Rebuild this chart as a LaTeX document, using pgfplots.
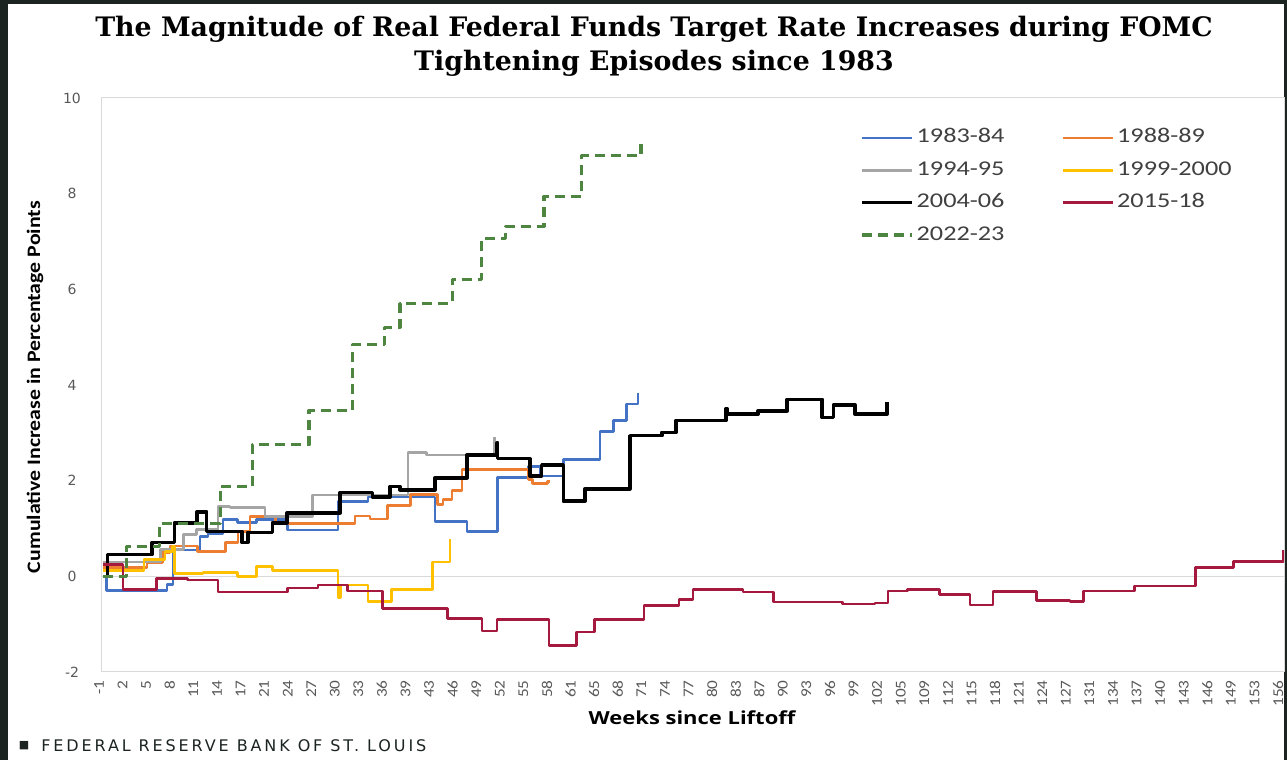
\documentclass[border=0pt]{standalone}
\usepackage{fontspec}
\setmainfont{Carlito}[FakeStretch=1.15]
\newfontfamily\legfont{Carlito}[FakeStretch=1.25]
\newfontfamily\titlefont{DejaVu Serif}
\newfontfamily\ytickfont{DejaVu Sans}
\newfontfamily\xlabfont{Open Sans}[FakeStretch=1.22]
\newfontfamily\footfont{DejaVu Sans}[LetterSpace=18]
\usepackage{pgfplots}
\pgfplotsset{compat=1.18}

\definecolor{bgdark}{HTML}{1B2421}
\definecolor{c8384}{HTML}{4472C4}
\definecolor{c8889}{HTML}{ED7D31}
\definecolor{c9495}{HTML}{A5A5A5}
\definecolor{c9900}{HTML}{FFC000}
\definecolor{c1518}{HTML}{A6193F}
\definecolor{c2223}{HTML}{4E8540}
\definecolor{ticktext}{HTML}{595959}
\definecolor{legtext}{HTML}{404040}
\definecolor{frame}{HTML}{D9D9D9}

\begin{document}
\begin{tikzpicture}
% page background (dark edge of the screenshot)
\fill[bgdark] (0pt,0pt) rectangle (643.5pt,380pt);
\fill[white] (4pt,0pt) rectangle (642pt,378pt);

\begin{axis}[
  at={(51pt,44pt)}, anchor=south west,
  scale only axis, width=591pt, height=287pt,
  xmin=-1.134, xmax=157.3, ymin=-2, ymax=10,
  axis line style={draw=frame, line width=0.5pt},
  major tick length=0pt,
  ytick={-2,0,...,10},
  /pgf/number format/assume math mode=true,
  yticklabel style={font=\ytickfont\fontsize{7}{8}\selectfont, text=ticktext, anchor=center, xshift=-15pt},
  extra y ticks={0}, extra y tick labels={},
  extra y tick style={grid=major, major grid style={draw=frame, line width=0.5pt}},
  % 51 evenly spaced category labels
  xtick={-1.13,2.031,5.191,8.352,11.512,14.673,17.834,20.994,24.155,27.315,30.476,33.637,36.797,39.958,43.118,46.279,49.440,52.600,55.761,58.921,62.082,65.243,68.403,71.564,74.724,77.885,81.046,84.206,87.367,90.527,93.688,96.849,100.009,103.170,106.330,109.491,112.652,115.812,118.973,122.133,125.294,128.455,131.615,134.776,137.936,141.097,144.258,147.418,150.579,153.739,156.9},
  xticklabels={-1,2,5,8,11,14,17,21,24,27,30,33,36,39,43,46,49,52,55,58,61,65,68,71,74,77,80,83,87,90,93,96,99,102,105,109,112,115,118,121,124,127,131,134,137,140,143,146,149,153,156},
  xticklabel style={font=\fontsize{7.5}{8}\selectfont, text=ticktext, rotate=90, anchor=east, inner sep=0pt, xshift=-4pt, yshift=1.5pt},
  every axis plot/.append style={const plot, line width=1.3pt, line join=round},
  legend columns=2,
  legend cell align=left,
  legend image code/.code={\draw[#1] (0pt,0pt) -- (25pt,0pt);},
  legend style={at={(0.641,0.947)}, anchor=north west, draw=none, fill=none, inner sep=0pt,
    font=\legfont\fontsize{10.5}{12}\selectfont, text=legtext,
    nodes={inner sep=0pt, inner xsep=1.5pt, text height=7pt, text depth=2pt},
    row sep=7.2pt,
    /tikz/every even column/.append style={column sep=27pt}},
]
\addplot[c8384] coordinates {(-1,0.0) (-0.5,-0.29) (7.6,-0.17) (8.4,0.55) (12,0.83) (13.1,0.9) (15.1,1.19) (17,1.12) (19.6,1.19) (23.7,0.97) (30.5,1.57) (34.5,1.66) (43.5,1.15) (47.8,0.94) (51.9,2.07) (56,2.29) (57.6,2.1) (60.7,2.44) (65.6,3.03) (67.4,3.26) (69.2,3.6) (70.7,3.84)};
\addlegendentry{1983-84}
\addplot[c8889] coordinates {(-1,0.19) (4.9,0.29) (7,0.5) (8,0.63) (11.7,0.52) (15.4,0.71) (17.1,0.94) (18.7,1.25) (22.1,1.1) (32.8,1.26) (34.8,1.2) (37.1,1.48) (40.2,1.71) (43.8,1.5) (44.6,1.6) (45.8,1.8) (47.1,2.23) (56,2.02) (56.6,1.94) (58.6,1.98) (58.9,1.98)};
\addlegendentry{1988-89}
\addplot[c9495] coordinates {(-1,0.3) (6.7,0.56) (9.8,0.87) (11.5,0.98) (14.4,1.46) (16,1.44) (20.7,1.25) (27.1,1.7) (39.9,2.59) (42.4,2.54) (51.5,2.92)};
\addlegendentry{1994-95}
\addplot[c9900] coordinates {(-1,0.12) (4.5,0.35) (7.3,0.52) (8.3,0.62) (8.6,0.06) (12.4,0.08) (17,0.0) (19.6,0.21) (21.7,0.12) (30.5,-0.44) (30.8,-0.18) (34.5,-0.53) (37.7,-0.27) (43.2,0.30) (45.5,0.78)};
\addlegendentry{1999-2000}
\addplot[black, line width=1.8pt] coordinates {(-1,0.0) (-0.4,0.46) (5.6,0.71) (8.6,1.12) (11.6,1.35) (12.9,0.94) (17.6,0.71) (18.4,0.92) (21.7,1.12) (23.7,1.33) (30.8,1.75) (35.1,1.66) (37.5,1.88) (38.8,1.81) (43.5,2.06) (47.8,2.54) (51.8,2.79) (51.9,2.46) (56.2,2.10) (57.8,2.33) (60.7,1.57) (63.6,1.83) (69.6,2.94) (73.9,3.01) (75.8,3.26) (82.5,3.51) (82.6,3.39) (86.8,3.46) (90.7,3.70) (95.4,3.32) (96.9,3.58) (99.8,3.39) (104.1,3.65)};
\addlegendentry{2004-06}
\addplot[c1518] coordinates {(-1,0.25) (1.7,-0.27) (6.2,-0.05) (10.3,-0.08) (14.4,-0.33) (23.7,-0.24) (27.8,-0.18) (31.8,-0.31) (36.5,-0.67) (45.2,-0.88) (49.8,-1.14) (51.8,-0.90) (58.8,-1.44) (62.5,-1.16) (64.9,-0.90) (71.5,-0.61) (76.2,-0.49) (78.1,-0.27) (84.8,-0.33) (88.9,-0.54) (98.1,-0.58) (102.5,-0.56) (104.2,-0.31) (106.8,-0.28) (111.1,-0.38) (115.2,-0.60) (118.3,-0.32) (124.1,-0.51) (128.6,-0.53) (130.4,-0.31) (137.3,-0.20) (145.4,0.18) (150.5,0.31) (157.2,0.56)};
\addlegendentry{2015-18}
\addplot[c2223, line width=1.6pt, dash pattern=on 5pt off 3pt] coordinates {(-1,0) (2.2,0.63) (6.6,1.1) (14.7,1.88) (19,2.75) (26.6,3.47) (32.4,4.85) (36.7,5.21) (38.8,5.7) (45.8,6.21) (49.7,7.07) (53,7.32) (58.1,7.94) (63.1,8.79) (71.1,9.03)};
\addlegendentry{2022-23}
\end{axis}

% title, axis titles and source line
\node[font=\titlefont\bfseries\fontsize{13.4}{17}\selectfont, align=center] at (327pt,357pt)
  {The Magnitude of Real Federal Funds Target Rate Increases during FOMC\\Tightening Episodes since 1983};
\node[font=\bfseries\fontsize{9.5}{11}\selectfont, rotate=90] at (17.5pt,186.5pt)
  {Cumulative Increase in Percentage Points};
\node[font=\xlabfont\bfseries\fontsize{9}{11}\selectfont] at (346pt,21pt) {Weeks since Liftoff};
\node[font=\ytickfont\fontsize{5.5}{6}\selectfont, text=bgdark] at (12pt,7pt) {■};
\node[font=\footfont\fontsize{8}{9}\selectfont, text=bgdark, anchor=west, inner sep=0pt] at (20.5pt,7pt)
  {FEDERAL RESERVE BANK OF ST. LOUIS};
\end{tikzpicture}
\end{document}
